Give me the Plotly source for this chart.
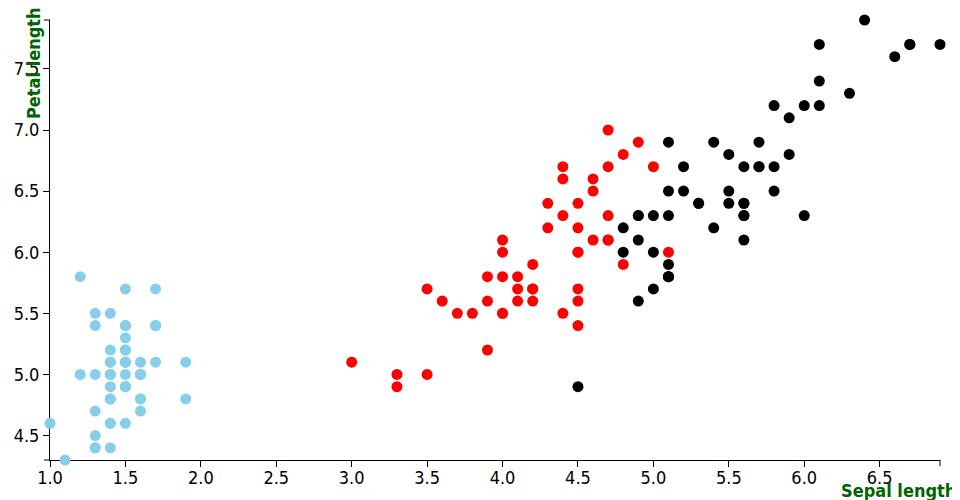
import plotly.graph_objects as go

# Iris data: x = petal length, y = sepal length
setosa_petal = [1.4,1.4,1.3,1.5,1.4,1.7,1.4,1.5,1.4,1.5,1.5,1.6,1.4,1.1,1.2,1.5,1.3,1.4,1.7,1.5,1.7,1.5,1.0,1.7,1.9,1.6,1.6,1.5,1.4,1.6,1.6,1.5,1.5,1.4,1.5,1.2,1.3,1.5,1.3,1.5,1.3,1.3,1.3,1.6,1.9,1.4,1.6,1.4,1.5,1.4]
setosa_sepal = [5.1,4.9,4.7,4.6,5.0,5.4,4.6,5.0,4.4,4.9,5.4,4.8,4.8,4.3,5.8,5.7,5.4,5.1,5.7,5.1,5.4,5.1,4.6,5.1,4.8,5.0,5.0,5.2,5.2,4.7,4.8,5.4,5.2,5.5,4.9,5.0,5.5,4.9,4.4,5.1,5.0,4.5,4.4,5.0,5.1,4.8,5.1,4.6,5.3,5.0]

versicolor_petal = [4.7,4.5,4.9,4.0,4.6,4.5,4.7,3.3,4.6,3.9,3.5,4.2,4.0,4.7,3.6,4.4,4.5,4.1,4.5,3.9,4.8,4.0,4.9,4.7,4.3,4.4,4.8,5.0,4.5,3.5,3.8,3.7,3.9,5.1,4.5,4.5,4.7,4.4,4.1,4.0,4.4,4.6,4.0,3.3,4.2,4.2,4.2,4.3,3.0,4.1]
versicolor_sepal = [7.0,6.4,6.9,5.5,6.5,5.7,6.3,4.9,6.6,5.2,5.0,5.9,6.0,6.1,5.6,6.7,5.6,5.8,6.2,5.6,5.9,6.1,6.3,6.1,6.4,6.6,6.8,6.7,6.0,5.7,5.5,5.5,5.8,6.0,5.4,6.0,6.7,6.3,5.6,5.5,5.5,6.1,5.8,5.0,5.6,5.7,5.7,6.2,5.1,5.7]

virginica_petal = [6.0,5.1,5.9,5.6,5.8,6.6,4.5,6.3,5.8,6.1,5.1,5.3,5.5,5.0,5.1,5.3,5.5,6.7,6.9,5.0,5.7,4.9,6.7,4.9,5.7,6.0,4.8,4.9,5.6,5.8,6.1,6.4,5.6,5.1,5.6,6.1,5.6,5.5,4.8,5.4,5.6,5.1,5.1,5.9,5.7,5.2,5.0,5.2,5.4,5.1]
virginica_sepal = [6.3,5.8,7.1,6.3,6.5,7.6,4.9,7.3,6.7,7.2,6.5,6.4,6.8,5.7,5.8,6.4,6.5,7.7,7.7,6.0,6.9,5.6,7.7,6.3,6.7,7.2,6.2,6.1,6.4,7.2,7.4,7.9,6.4,6.3,6.1,7.7,6.3,6.4,6.0,6.9,6.7,6.9,5.8,6.8,6.7,6.7,6.3,6.5,6.2,5.9]

species = ["setosa", "versicolor", "virginica"]
colors = ["#87CEEB", "#FF0000", "#000000"]
x_ticks = [1.0, 1.5, 2.0, 2.5, 3.0, 3.5, 4.0, 4.5, 5.0, 5.5, 6.0, 6.5]
y_ticks = [4.5, 5.0, 5.5, 6.0, 6.5, 7.0, 7.5]

xs = [setosa_petal, versicolor_petal, virginica_petal]
ys = [setosa_sepal, versicolor_sepal, virginica_sepal]

FONT = "DejaVu Sans Condensed, Liberation Sans Narrow, sans-serif"

fig = go.Figure()
for name, x, y, c in zip(species, xs, ys, colors):
    fig.add_trace(go.Scatter(x=x, y=y, mode="markers", name=name,
                             marker=dict(color=c, size=11, line=dict(width=0)),
                             cliponaxis=False))

xmin, xmax = min(min(v) for v in xs), max(max(v) for v in xs)
ymin, ymax = min(min(v) for v in ys), max(max(v) for v in ys)

axis_common = dict(showgrid=False, zeroline=False, showline=True, linecolor="black",
                   linewidth=1, ticks="outside", ticklen=6, tickcolor="black",
                   tickfont=dict(family=FONT, size=18, color="black"),
                   layer="below traces")

# page body has an 8px margin, so the figure is 952x492 and sits at (8, 8)
fig.update_layout(
    width=952, height=492,
    margin=dict(l=42, r=20, t=12, b=40, autoexpand=False),
    plot_bgcolor="white", paper_bgcolor="white",
    showlegend=False,
    xaxis=dict(range=[xmin, xmax], tickvals=x_ticks, ticklabelstandoff=-5,
               ticktext=[f"{v:.1f}" for v in x_ticks], **axis_common),
    yaxis=dict(range=[ymin, ymax], tickvals=y_ticks,
               ticktext=[f"{v:.1f}" for v in y_ticks], **axis_common),
    annotations=[
        dict(text="<b>Sepal length</b>", xref="paper", yref="paper", x=1, y=0,
             xanchor="right", yanchor="top", xshift=18, yshift=-18, showarrow=False,
             font=dict(family=FONT, size=18, color="#006400")),
        dict(text="<b>Petal length</b>", xref="paper", yref="paper", x=0, y=1,
             xanchor="center", yanchor="top", xshift=-17, yshift=15, textangle=-90,
             showarrow=False, font=dict(family=FONT, size=18, color="#006400")),
    ],
    shapes=[
        dict(type="line", xref="paper", yref="paper", x0=1, x1=1, y0=0, y1=-6/440,
             line=dict(color="black", width=1)),
        dict(type="line", xref="paper", yref="paper", x0=0, x1=-6/890, y0=1, y1=1,
             line=dict(color="black", width=1)),
        dict(type="line", xref="paper", yref="paper", x0=0, x1=-6/890, y0=0, y1=0,
             line=dict(color="black", width=1)),
    ],
)

fig.write_html("out.html")
